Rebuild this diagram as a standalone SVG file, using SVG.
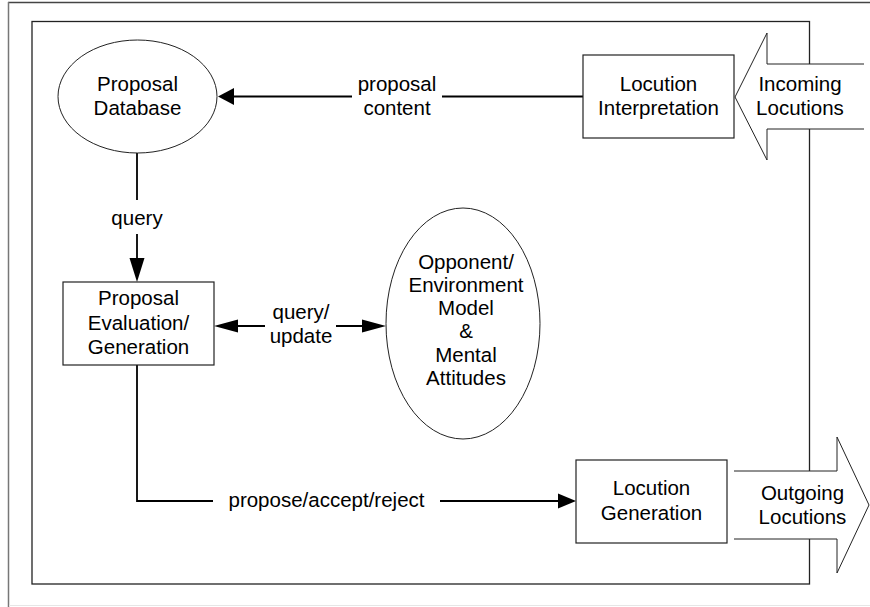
<svg xmlns="http://www.w3.org/2000/svg" width="870" height="607" viewBox="0 0 870 607">
<style>
text{font-family:"Liberation Sans",Arial,sans-serif;font-size:20.5px;fill:#000;text-anchor:middle}
.box{fill:#fff;stroke:#222;stroke-width:1.2}
.ell{fill:#fff;stroke:#222;stroke-width:1}
.big{fill:#fff;stroke:#222;stroke-width:1}
.conn{fill:none;stroke:#000;stroke-width:1.8}
.head{fill:#000;stroke:none}
</style>
<rect x="0" y="0" width="870" height="607" fill="#fff"/>
<g id="frame">
<line x1="8" y1="2.5" x2="870" y2="2.5" stroke="#444" stroke-width="1.5"/>
<line x1="8.5" y1="2" x2="8.5" y2="607" stroke="#777" stroke-width="1.5"/>
<line x1="9" y1="605.5" x2="870" y2="605.5" stroke="#e6e6e6" stroke-width="1"/>
<rect x="32" y="21.5" width="777.5" height="562.5" fill="none" stroke="#222" stroke-width="1.3"/>
</g>
<g id="connectors">
<path class="conn" d="M583 96.5 H442 M352 96.5 H234"/>
<polygon class="head" points="218,96.5 234,88 234,105"/>
<path class="conn" d="M137 153 V200 M137 234 V258"/>
<polygon class="head" points="137,282 129.5,258 144.5,258"/>
<path class="conn" d="M238 326 H265 M336 326 H362"/>
<polygon class="head" points="214,326 238,319.5 238,332.5"/>
<polygon class="head" points="386,326 362,319.5 362,332.5"/>
<path class="conn" d="M137 365 V501 H213 M440 501 H558"/>
<polygon class="head" points="576,501 558,493.5 558,508.5"/>
</g>
<g id="labels">
<text x="397" y="91">proposal</text>
<text x="397" y="115">content</text>
<text x="137" y="225">query</text>
<text x="301" y="319">query/</text>
<text x="301" y="343">update</text>
<text x="326.5" y="507">propose/accept/reject</text>
</g>
<g id="proposal-database">
<ellipse class="ell" cx="137.5" cy="96.5" rx="79.5" ry="56.5"/>
<text x="137.5" y="91">Proposal</text>
<text x="137.5" y="115">Database</text>
</g>
<g id="locution-interpretation">
<rect class="box" x="583" y="55" width="151" height="83"/>
<text x="658.5" y="91">Locution</text>
<text x="658.5" y="115">Interpretation</text>
</g>
<g id="incoming-locutions">
<path class="big" d="M864 64 H767 V33 L735 97 L767 160 V129 H864"/>
<text x="800" y="91">Incoming</text>
<text x="800" y="115">Locutions</text>
</g>
<g id="proposal-evaluation">
<rect class="box" x="63" y="282" width="151" height="83"/>
<text x="138.5" y="305">Proposal</text>
<text x="138.5" y="330">Evaluation/</text>
<text x="138.5" y="354">Generation</text>
</g>
<g id="opponent-model">
<ellipse class="ell" cx="463" cy="323.5" rx="77" ry="115.5"/>
<text x="466" y="269">Opponent/</text>
<text x="466" y="292">Environment</text>
<text x="466" y="315">Model</text>
<text x="466" y="338">&amp;</text>
<text x="466" y="362">Mental</text>
<text x="466" y="385">Attitudes</text>
</g>
<g id="locution-generation">
<rect class="box" x="576" y="460" width="151" height="83"/>
<text x="651.5" y="495">Locution</text>
<text x="651.5" y="520">Generation</text>
</g>
<g id="outgoing-locutions">
<path class="big" d="M734 471 H837 V437 L869 505 L837 573 V539 H734"/>
<text x="802.5" y="500">Outgoing</text>
<text x="802.5" y="524">Locutions</text>
</g>
</svg>
